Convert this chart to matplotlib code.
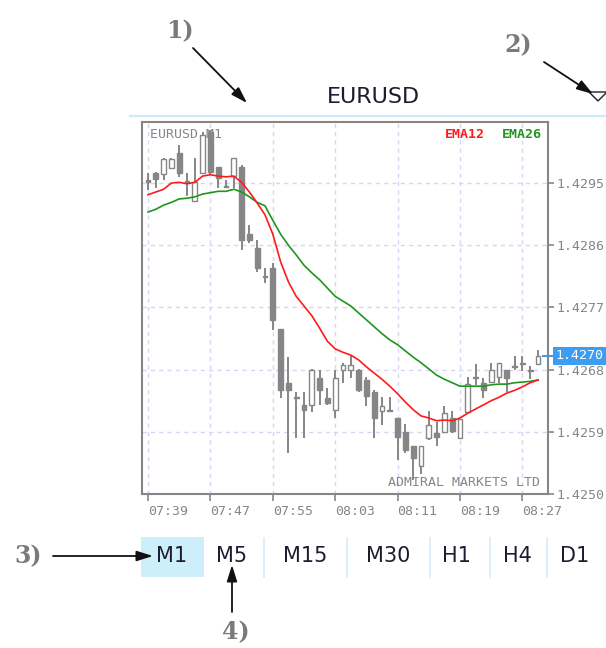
import numpy as np
import matplotlib.pyplot as plt
from matplotlib.patches import Rectangle, Polygon

# chart data (EURUSD, M1 candles 07:39 .. 08:29)
symbol = "EURUSD"
period = "M1"
times = ["07:39", "07:47", "07:55", "08:03", "08:11", "08:19", "08:27"]

opens = [1.42954, 1.42964, 1.42963, 1.42972, 1.42993, 1.42953, 1.42924, 1.42964, 1.43024, 1.42973,
         1.42946, 1.42960, 1.42973, 1.42876, 1.42856, 1.42815, 1.42827, 1.42739, 1.42661, 1.42640,
         1.42629, 1.42629, 1.42668, 1.42639, 1.42622, 1.42679, 1.42679, 1.42679, 1.42665, 1.42648,
         1.42620, 1.42622, 1.42610, 1.42590, 1.42569, 1.42541, 1.42581, 1.42588, 1.42590, 1.42610,
         1.42581, 1.42619, 1.42669, 1.42661, 1.42662, 1.42669, 1.42679, 1.42685, 1.42690, 1.42679,
         1.42688]
highs = [1.42964, 1.42966, 1.42986, 1.42986, 1.43005, 1.42964, 1.42986, 1.43024, 1.43027, 1.42973,
         1.42954, 1.42986, 1.42976, 1.42889, 1.42868, 1.42827, 1.42834, 1.42739, 1.42698, 1.42648,
         1.42648, 1.42681, 1.42679, 1.42653, 1.42679, 1.42690, 1.42700, 1.42681, 1.42669, 1.42650,
         1.42640, 1.42640, 1.42610, 1.42601, 1.42569, 1.42569, 1.42620, 1.42604, 1.42627, 1.42620,
         1.42609, 1.42669, 1.42688, 1.42668, 1.42690, 1.42690, 1.42679, 1.42700, 1.42700, 1.42685,
         1.42708]
lows = [1.42940, 1.42943, 1.42954, 1.42972, 1.42959, 1.42931, 1.42924, 1.42963, 1.42963, 1.42943,
        1.42943, 1.42943, 1.42853, 1.42863, 1.42821, 1.42805, 1.42737, 1.42639, 1.42559, 1.42581,
        1.42581, 1.42619, 1.42629, 1.42629, 1.42610, 1.42661, 1.42668, 1.42648, 1.42627, 1.42581,
        1.42600, 1.42619, 1.42549, 1.42559, 1.42520, 1.42529, 1.42578, 1.42569, 1.42588, 1.42588,
        1.42581, 1.42619, 1.42658, 1.42639, 1.42661, 1.42661, 1.42648, 1.42679, 1.42678, 1.42666,
        1.42688]
closes = [1.42951, 1.42956, 1.42985, 1.42985, 1.42964, 1.42950, 1.42951, 1.43019, 1.42966, 1.42957,
          1.42944, 1.42986, 1.42868, 1.42868, 1.42827, 1.42814, 1.42752, 1.42650, 1.42650, 1.42639,
          1.42622, 1.42679, 1.42650, 1.42632, 1.42668, 1.42687, 1.42687, 1.42650, 1.42642, 1.42610,
          1.42627, 1.42620, 1.42582, 1.42564, 1.42552, 1.42569, 1.42600, 1.42582, 1.42617, 1.42591,
          1.42609, 1.42659, 1.42668, 1.42650, 1.42679, 1.42690, 1.42668, 1.42684, 1.42688, 1.42678,
          1.42700]
ema12 = [1.42933, 1.42937, 1.42941, 1.42950, 1.42951, 1.42949, 1.42951, 1.42960, 1.42962, 1.42960,
         1.42959, 1.42960, 1.42951, 1.42937, 1.42921, 1.42904, 1.42876, 1.42836, 1.42807, 1.42786,
         1.42772, 1.42758, 1.42740, 1.42721, 1.42710, 1.42705, 1.42701, 1.42694, 1.42684, 1.42675,
         1.42666, 1.42656, 1.42645, 1.42633, 1.42622, 1.42613, 1.42610, 1.42606, 1.42607, 1.42606,
         1.42610, 1.42617, 1.42623, 1.42629, 1.42635, 1.42640, 1.42646, 1.42650, 1.42655, 1.42661,
         1.42665]
ema26 = [1.42908, 1.42912, 1.42918, 1.42922, 1.42927, 1.42928, 1.42930, 1.42934, 1.42936, 1.42938,
         1.42938, 1.42941, 1.42937, 1.42930, 1.42922, 1.42917, 1.42896, 1.42876, 1.42860, 1.42846,
         1.42831, 1.42820, 1.42810, 1.42798, 1.42786, 1.42779, 1.42772, 1.42762, 1.42752, 1.42742,
         1.42732, 1.42723, 1.42716, 1.42707, 1.42698, 1.42690, 1.42681, 1.42672, 1.42666, 1.42661,
         1.42656, 1.42656, 1.42656, 1.42656, 1.42658, 1.42659, 1.42659, 1.42661, 1.42662, 1.42663,
         1.42665]
price_ticks = [1.4295, 1.4286, 1.4277, 1.4268, 1.4259, 1.4250]
last_price = 1.4270
timeframes = ["M1", "M5", "M15", "M30", "H1", "H4", "D1"]

gray = "#868686"
mono = "DejaVu Sans Mono"

fig = plt.figure(figsize=(6.06, 6.48), dpi=100)
fig.patch.set_facecolor("white")

# price chart
ax = fig.add_axes([142 / 606, 1 - 494 / 648, 406 / 606, 372 / 648])
n = len(opens)
for i in range(n):
    o, h, l, c = opens[i], highs[i], lows[i], closes[i]
    ax.vlines(i, l, h, color=gray, lw=1.4, zorder=3)
    bottom = min(o, c)
    height = max(abs(c - o), 1.2e-5)
    face = "white" if c > o else gray
    ax.add_patch(Rectangle((i - 0.3, bottom), 0.6, height, facecolor=face,
                           edgecolor=gray, lw=1.0, zorder=4))

ax.plot(range(n), ema26, color="#1e961e", lw=1.2, zorder=5)
ax.plot(range(n), ema12, color="#ff1a1a", lw=1.2, zorder=5)

ax.set_xlim(-0.77, 51.28)
ax.set_ylim(1.4250, 1.430383)
ax.set_xticks(range(0, 8 * len(times), 8))
ax.set_xticklabels(times, ha="left", family=mono, fontsize=9.5, color=gray)
ax.yaxis.tick_right()
ax.set_yticks(price_ticks)
ax.set_yticklabels(["%.4f" % p for p in price_ticks], family=mono, fontsize=9.5, color=gray)
ax.tick_params(axis="x", length=5, width=1.2, color=gray, pad=3)
ax.tick_params(axis="y", length=4, width=1.2, color=gray, pad=2)
ax.grid(True, color="#d6d6f2", lw=1, linestyle=(0, (3, 3)), zorder=0)
ax.set_axisbelow(True)
for s in ax.spines.values():
    s.set_color(gray)
    s.set_linewidth(1.5)

ax.text(0.02, 0.966, symbol + " " + period, transform=ax.transAxes, family=mono,
        fontsize=9.5, color=gray, va="center", ha="left", zorder=2)
ax.text(0.985, 0.966, "EMA26", transform=ax.transAxes, family=mono, fontsize=9.5,
        color="#1e961e", va="center", ha="right", weight="bold")
ax.text(0.845, 0.966, "EMA12", transform=ax.transAxes, family=mono, fontsize=9.5,
        color="#ff1a1a", va="center", ha="right", weight="bold")
ax.text(0.98, 0.03, "ADMIRAL MARKETS LTD", transform=ax.transAxes, family=mono,
        fontsize=9.5, color=gray, va="center", ha="right")

# current price marker
ytr = ax.get_yaxis_transform()
ax.plot([0.988, 1.013], [last_price, last_price], transform=ytr, color="#3d9df2",
        lw=1.5, clip_on=False)
ax.text(1.018, last_price, "%.4f" % last_price, transform=ytr, family=mono, fontsize=9.5,
        color="white", va="center", ha="left", clip_on=False,
        bbox=dict(boxstyle="square,pad=0.2", fc="#3d9df2", ec="none"))

# overlay in pixel coordinates for header, tab bar and the numbered callouts
ov = fig.add_axes([0, 0, 1, 1], zorder=5)
ov.set_xlim(0, 606)
ov.set_ylim(648, 0)
ov.axis("off")
ov.patch.set_alpha(0)

ov.plot([130, 606], [115.5, 115.5], color="#cfeaf8", lw=1.6)
ov.text(373, 97, symbol, fontsize=16, color="#1c1c30", ha="center", va="center")
ov.add_patch(Polygon([(589, 92), (607, 92), (598, 101)], closed=True, fill=False,
                     edgecolor="#222222", lw=1))

ov.add_patch(Rectangle((141, 537), 63, 40, facecolor="#cdeefb", edgecolor="none"))
tab_x = [172, 232, 305, 388, 456, 517, 575]
for x, tf in zip(tab_x, timeframes):
    ov.text(x, 556, tf, fontsize=15, color="#1c1c30", ha="center", va="center")
for x in [264, 347, 430, 490, 547]:
    ov.plot([x, x], [538, 577], color="#d8eef9", lw=1.3)

callout = dict(fontsize=17, weight="bold", family="DejaVu Serif", color="#7a7a7a",
               ha="center", va="center")
arrow = dict(arrowstyle="-|>,head_length=0.7,head_width=0.22", color="#111111",
             lw=1.3, mutation_scale=14, shrinkA=0, shrinkB=0)
ov.text(180, 31, "1)", **callout)
ov.annotate("", xy=(247, 103), xytext=(193, 48), arrowprops=arrow)
ov.text(518, 45, "2)", **callout)
ov.annotate("", xy=(593, 94), xytext=(544, 62), arrowprops=arrow)
ov.text(28, 556, "3)", **callout)
ov.annotate("", xy=(153, 556), xytext=(53, 556), arrowprops=arrow)
ov.text(236, 632, "4)", **callout)
ov.annotate("", xy=(232, 565), xytext=(232, 612), arrowprops=arrow)

fig.savefig("out.png", dpi=100)
